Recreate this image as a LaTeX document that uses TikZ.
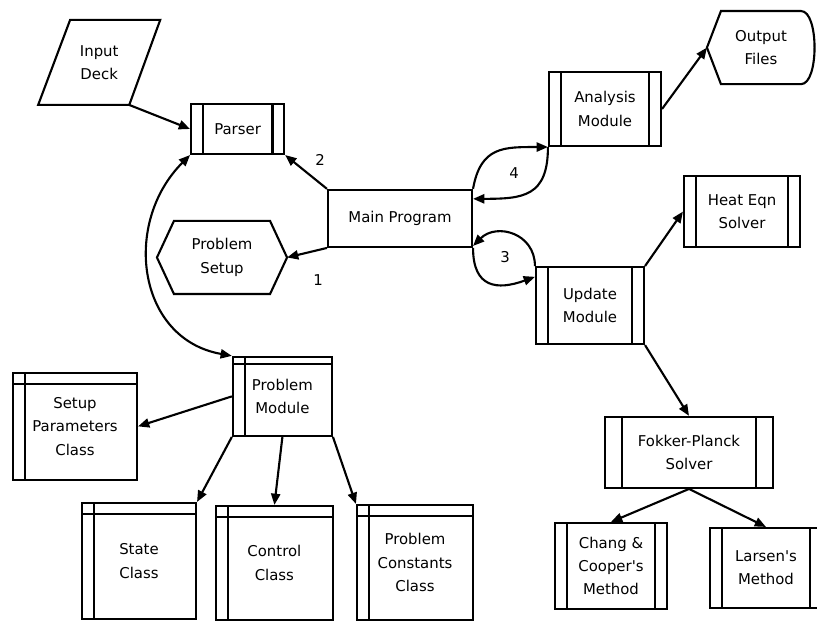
\documentclass[tikz,border=0pt]{standalone}
\usepackage{fontspec}
\setmainfont{DejaVu Sans}[Ligatures=TeXOff]
\usetikzlibrary{arrows.meta}

\begin{document}
\begin{tikzpicture}[
        font=\fontsize{10.6}{16.5}\selectfont,
        line width=1.5pt,
        box/.style={draw, align=center, inner sep=0pt},
        plain/.style={align=center, inner sep=0pt},
        proc/.style={box, path picture={
            \draw ([xshift=#1]path picture bounding box.north west) -- ([xshift=#1]path picture bounding box.south west);
            \draw ([xshift=-#1]path picture bounding box.north east) -- ([xshift=-#1]path picture bounding box.south east);}},
        proc/.default=0.29cm,
        cls/.style={box, path picture={
            \draw ([xshift=0.3cm]path picture bounding box.north west) -- ([xshift=0.3cm]path picture bounding box.south west);
            \draw ([yshift=-#1]path picture bounding box.north west) -- ([yshift=-#1]path picture bounding box.north east);}},
        cls/.default=0.27cm,
        arr/.style={-{Triangle[length=8pt,width=6.5pt]}},
        arrs/.style={{Triangle[length=8pt,width=6.5pt]}-{Triangle[length=8pt,width=6.5pt]}}
    ]
        \useasboundingbox (0, 0) rectangle (20.425, 15.6);

        \node[plain, minimum width=3cm, minimum height=2.075cm] (deck) at (2.48, 14.04) {Input\\Deck};
        \draw ([xshift=0.8cm]deck.north west) -- (deck.north east) -- ([xshift=-0.775cm]deck.south east)
            -- (deck.south west) -- cycle;
        \coordinate (deckcorner) at ([xshift=-0.775cm]deck.south east);

        \node[proc, minimum width=2.325cm, minimum height=1.25cm] (parser) at (5.94, 12.375) {Parser};
        \node[box, minimum width=3.6cm, minimum height=1.425cm] (main) at (10, 10.14) {Main Program};

        \node[plain, minimum width=3.2cm, minimum height=1.775cm] (setup) at (5.55, 9.1625) {Problem\\Setup};
        \draw (setup.west) -- ([xshift=0.425cm]setup.north west) -- ([xshift=-0.425cm]setup.north east) -- (setup.east)
            -- ([xshift=-0.425cm]setup.south east) -- ([xshift=0.425cm]setup.south west) -- cycle;

        \node[proc, minimum width=2.8cm, minimum height=1.85cm] (analysis) at (15.125, 12.875) {Analysis\\Module};
        \node[plain, minimum width=2.65cm, minimum height=1.775cm] (outfiles) at (19.025, 14.41) {Output\\Files};
        \draw (outfiles.west) -- ([xshift=0.35cm]outfiles.north west) -- ([xshift=-0.35cm]outfiles.north east)
            .. controls ([xshift=0.1cm]outfiles.north east) and ([xshift=0.1cm]outfiles.south east) .. ([xshift=-0.35cm]outfiles.south east)
            -- ([xshift=0.35cm]outfiles.south west) -- cycle;

        \node[proc, minimum width=2.7cm, minimum height=1.925cm] (update) at (14.75, 7.96) {Update\\Module};
        \node[proc, minimum width=2.9cm, minimum height=1.775cm] (heat) at (18.55, 10.31) {Heat Eqn\\Solver};
        \node[proc=0.43cm, minimum width=4.2cm, minimum height=1.775cm] (fokker) at (17.225, 4.29) {Fokker-Planck\\Solver};
        \node[proc, minimum width=2.8cm, minimum height=2.15cm] (chang) at (15.275, 1.45) {Chang \&\\Cooper's\\Method};
        \node[proc, minimum width=2.8cm, minimum height=2cm] (larsen) at (19.15, 1.4) {Larsen's\\Method};

        \node[cls=0.18cm, minimum width=2.475cm, minimum height=1.975cm] (pmod) at (7.06, 5.69) {Problem\\Module};
        \node[cls, minimum width=3.1cm, minimum height=2.675cm] (spc) at (1.875, 4.94) {Setup\\Parameters\\Class};
        \node[cls, minimum width=2.85cm, minimum height=2.9cm] (state) at (3.475, 1.575) {State\\Class};
        \node[cls, minimum width=2.925cm, minimum height=2.85cm] (control) at (6.86, 1.525) {Control\\Class};
        \node[cls, minimum width=2.9cm, minimum height=2.875cm] (consts) at (10.375, 1.5375) {Problem\\Constants\\Class};

        \node (n1) at (7.95, 8.6) {1};
        \node (n2) at (8, 11.6) {2};
        \node (n3) at (12.625, 9.175) {3};
        \node (n4) at (12.85, 11.275) {4};

        \draw[arr] (deckcorner) -- (parser.west);
        \draw[arr] (main.north west) -- (parser.south east);
        \draw[arr] (main.south west) -- (setup.east);
        \draw[arrs] (parser.south west) to[out=225, in=170, looseness=1.2] (pmod.north west);

        \draw[arr] (main.north east) to[out=80, in=180, looseness=1.3] (analysis.south west);
        \draw[arr] (analysis.south west) to[out=-90, in=0, looseness=1.4] ([yshift=-0.25cm]main.north east);
        \draw[arr] (update.north west) to[out=90, in=45, looseness=1.3] ([yshift=0.05cm]main.south east);
        \draw[arr] (main.south east) to[out=-90, in=200, looseness=1.5] ([yshift=-0.27cm]update.north west);

        \draw[arr] (analysis.east) -- (outfiles.west);
        \draw[arr] (update.north east) -- (heat.west);
        \draw[arr] (update.south east) -- (fokker.north);
        \draw[arr] (fokker.south) -- (chang.north);
        \draw[arr] (fokker.south) -- (larsen.north);

        \draw[arr] (pmod.west) -- (spc.east);
        \draw[arr] (pmod.south west) -- (state.north east);
        \draw[arr] (pmod.south) -- (control.north);
        \draw[arr] (pmod.south east) -- (consts.north west);
    \end{tikzpicture}
\end{document}
